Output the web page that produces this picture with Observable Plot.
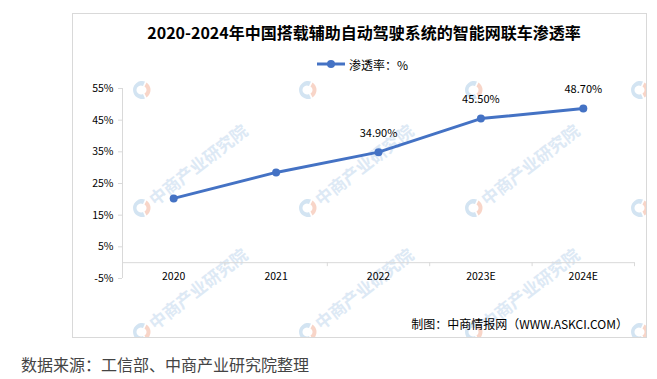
<!DOCTYPE html>
<html>
<head>
<meta charset="utf-8">
<script src="https://cdn.jsdelivr.net/npm/d3@7"></script>
<script src="https://cdn.jsdelivr.net/npm/@observablehq/plot@0.6"></script>
<style>
  html, body { margin: 0; padding: 0; background: #fff; }
  body { width: 657px; height: 379px; position: relative; overflow: hidden;
         font-family: "Noto Sans CJK SC", "Noto Sans", sans-serif; }
  #box { position: absolute; left: 72px; top: 13px; width: 575px; height: 325px;
         border: 1px solid #d9d9d9; box-sizing: border-box; }
  #wm { position: absolute; left: 73px; top: 14px; width: 573px; height: 323px; overflow: hidden; }
  .wm-text { position: absolute; font-size: 17px; color: #dde9f5; white-space: nowrap;
             transform-origin: 0 50%; transform: rotate(-38deg); line-height: 20px; font-weight: 700; }
  .wm-logo { position: absolute; }
  #title { position: absolute; left: 0; width: 728px; top: 21px; text-align: center;
           font-size: 16px; font-weight: 700; color: #000; line-height: 22px; white-space: nowrap; }
  #legend { position: absolute; left: 316px; top: 56px; height: 16px; display: flex;
            align-items: center; font-size: 12px; color: #000; white-space: nowrap; }
  #legend svg { margin-right: 3px; }
  #caption { position: absolute; right: 29px; top: 315px; font-size: 12px; color: #000;
             white-space: nowrap; line-height: 18px; }
  #source { position: absolute; left: 21px; top: 353px; font-size: 16px; color: #444;
            white-space: nowrap; line-height: 22px; }
  #chart { position: absolute; left: 0; top: 0; }
</style>
</head>
<body>
<div id="box"></div>
<div id="wm"></div>
<div id="title">2020-2024年中国搭载辅助自动驾驶系统的智能网联车渗透率</div>
<div id="legend"></div>
<div id="chart"></div>
<div id="caption">制图：中商情报网（WWW.ASKCI.COM）</div>
<div id="source">数据来源：工信部、中商产业研究院整理</div>
<script>
// ---- data ----
const categories = ["2020", "2021", "2022", "2023E", "2024E"];
const values = [20.3, 28.5, 34.9, 45.5, 48.7];
const valueLabels = [null, null, "34.90%", "45.50%", "48.70%"];
const yTicks = [-5, 5, 15, 25, 35, 45, 55];
const seriesName = "渗透率：%";
const lineColor = "#4472C4";
const watermarkText = "中商产业研究院";

// ---- watermarks (decorative background, clipped to the chart box) ----
const wm = document.getElementById("wm");
const wmOffX = 73, wmOffY = 14;
const wmCols = [142, 308, 474, 640];
const wmRows = [90, 208, 332];
for (const wy of wmRows) {
  for (const wx of wmCols) {
    const logo = document.createElement("div");
    logo.className = "wm-logo";
    logo.style.left = (wx - 10 - wmOffX) + "px";
    logo.style.top = (wy - 10 - wmOffY) + "px";
    logo.innerHTML = `<svg width="20" height="20" viewBox="-10 -10 20 20">
      <path d="M 3 -8.5 A 9 9 0 1 0 3 8.5 L 1 4 A 4.5 4.5 0 1 1 1 -4 Z" fill="#d3e4f2"/>
      <path d="M 4.5 -7.5 A 9 9 0 0 1 4.5 7.5 L 2.5 3.5 A 4 4 0 0 0 2.5 -3.5 Z" fill="#f8d5c8"/></svg>`;
    wm.appendChild(logo);
    // only full, uncut watermark texts
    if (wy > 150 && wx < 600) {
      const t = document.createElement("div");
      t.className = "wm-text";
      t.textContent = watermarkText;
      t.style.left = (wx + 9 - wmOffX) + "px";
      t.style.top = (wy - 17 - wmOffY) + "px";
      wm.appendChild(t);
    }
  }
}

// ---- table built from arrays ----
const rows = categories.map((c, i) => ({category: c, pos: i + 0.5, value: values[i], label: valueLabels[i]}));
const centers = rows.map(d => d.pos);
const bounds = d3.range(categories.length + 1);

// ---- legend ----
const legend = document.getElementById("legend");
legend.innerHTML = `<svg width="30" height="10"><line x1="1" y1="5" x2="29" y2="5" stroke="${lineColor}" stroke-width="3"/><circle cx="15" cy="5" r="4" fill="${lineColor}"/></svg><span>${seriesName}</span>`;

// ---- chart ----
const chart = Plot.plot({
  width: 657,
  height: 379,
  marginLeft: 122,
  marginRight: 23,
  marginTop: 88,
  marginBottom: 101,
  x: {type: "linear", domain: [0, categories.length], axis: null, label: null},
  y: {domain: [-5, 55], axis: null, label: null},
  style: {fontFamily: "'Noto Sans CJK SC', 'Noto Sans', sans-serif", fontSize: "10.5px", color: "#000", background: "transparent", overflow: "visible"},
  marks: [
    Plot.ruleX([0], {stroke: "#d9d9d9", strokeWidth: 1}),
    Plot.ruleY([0], {stroke: "#d9d9d9", strokeWidth: 1}),
    Plot.ruleX(bounds, {x: d => d, y1: 0, y2: 0, insetBottom: -4, stroke: "#d9d9d9"}),
    Plot.axisY(yTicks, {label: null, tickFormat: d => d + "%", tickSize: 4, tickPadding: 5, stroke: "#d9d9d9", fill: "#000", fontSize: 10.5}),
    Plot.axisX(centers, {label: null, tickFormat: p => categories[Math.floor(p)], tickSize: 0, tickPadding: 0, dy: -6, fill: "#000", fontSize: 10.5}),
    Plot.line(rows, {x: "pos", y: "value", stroke: lineColor, strokeWidth: 3, curve: "linear"}),
    Plot.dot(rows, {x: "pos", y: "value", r: 4, fill: lineColor}),
    Plot.text(rows.filter(d => d.label), {x: "pos", y: "value", text: "label", dy: -19, fontSize: 11, fill: "#000"})
  ]
});
document.getElementById("chart").appendChild(chart);
</script>
</body>
</html>
